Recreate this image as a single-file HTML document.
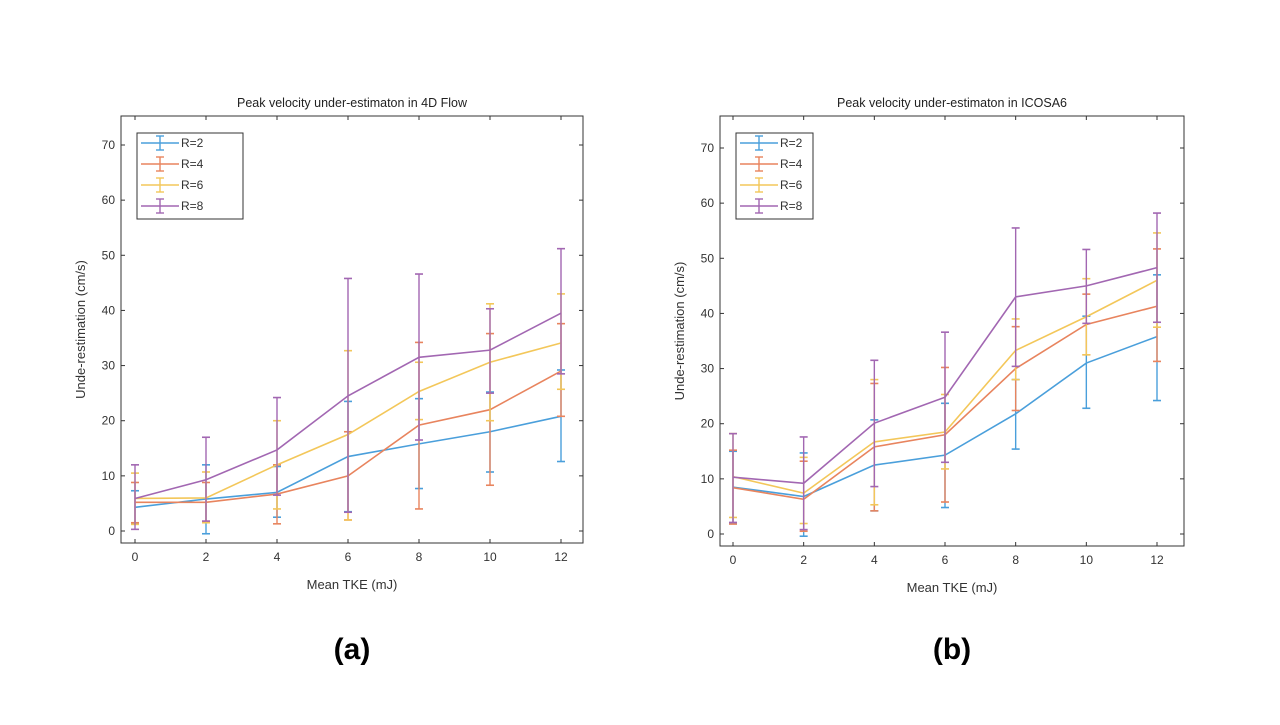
<!DOCTYPE html>
<html><head><meta charset="utf-8"><style>
body{margin:0;background:#fff;}
svg text{font-family:"Liberation Sans",Arial,sans-serif;}
</style></head><body>
<svg id="s" width="1280" height="720"></svg>
<script>
const xCats=[0,2,4,6,8,10,12];
const yTicks=[0,10,20,30,40,50,60,70];
const seriesNames=["R=2","R=4","R=6","R=8"];
const colors=["#4A9FDB","#E8845E","#F3C75A","#A267B2"];
// Panel (a)
const aMean=[[4.3,5.8,7,13.5,15.8,18,20.8],[5.2,5.2,6.7,10,19.2,22,29],[5.9,6,12,17.5,25.3,30.6,34.1],[5.9,9.3,14.7,24.5,31.5,32.8,39.5]];
const aLo=[[1.3,-0.5,2.5,3.5,7.7,10.7,12.6],[1.5,1.6,1.3,2,4,8.3,20.8],[1.2,1.5,4,2,20.2,20,25.7],[0.3,1.8,6.5,3.4,16.5,25,28.5]];
const aHi=[[7.3,12,11.7,23.5,24,25.2,29.2],[8.8,8.8,12,18,34.2,35.8,37.6],[10.5,10.7,20,32.7,30.6,41.2,43],[12,17,24.2,45.8,46.6,40.3,51.2]];
// Panel (b)
const bMean=[[8.5,6.8,12.5,14.3,21.8,31,35.8],[8.4,6.3,15.8,18,30,38,41.3],[10.4,7.4,16.7,18.5,33.3,39.4,46],[10.3,9.2,20.1,24.8,43,45,48.3]];
const bLo=[[2,-0.4,4.2,4.8,15.4,22.8,24.2],[1.8,0.5,4.2,5.8,22.4,32.5,31.3],[3,1.9,5.3,11.8,28,32.5,37.5],[2.1,0.8,8.6,13,30.4,38.2,38.4]];
const bHi=[[15,14.7,20.7,23.7,28,39.5,47],[15.2,13.2,27.3,30.2,37.6,43.5,51.7],[18.2,13.9,28,25.3,39,46.3,54.6],[18.2,17.6,31.5,36.6,55.5,51.6,58.2]];

const NS="http://www.w3.org/2000/svg";
const svg=document.getElementById('s');
function mk(t,a,p){const e=document.createElementNS(NS,t);for(const k in a)e.setAttribute(k,a[k]);(p||svg).appendChild(e);return e;}

function panel(P){
  const g=mk('g',{});
  
  
  const X=v=>P.x0+(v-0)*(P.x12-P.x0)/12;
  const Y=v=>P.y0-v*(P.y0-P.y70)/70;
  const box=mk('rect',{x:P.L,y:P.T,width:P.R-P.L,height:P.B-P.T,fill:'#fff',stroke:'#333','stroke-width':1},g);
  
  
  yTicks.forEach(v=>{
    mk('line',{x1:P.L,x2:P.L+4,y1:Y(v),y2:Y(v),stroke:'#333'},g);
    mk('line',{x1:P.R,x2:P.R-4,y1:Y(v),y2:Y(v),stroke:'#333'},g);
    const t=mk('text',{x:P.L-6,y:Y(v)+4,'text-anchor':'end','font-size':12,fill:'#333'},g);t.textContent=v;
    
    
  });
  xCats.forEach(v=>{
    mk('line',{x1:X(v),x2:X(v),y1:P.B,y2:P.B-4,stroke:'#333'},g);
    mk('line',{x1:X(v),x2:X(v),y1:P.T,y2:P.T+4,stroke:'#333'},g);
    const t=mk('text',{x:X(v),y:P.B+18,'text-anchor':'middle','font-size':12,fill:'#333'},g);t.textContent=v;
    
    
  });
  P.mean.forEach((m,si)=>{
    const c=colors[si];
    const sg=mk('g',{},g);
    
    
    mk('polyline',{points:m.map((v,i)=>X(xCats[i])+','+Y(v)).join(' '),fill:'none',stroke:c,'stroke-width':1.6},sg);
    m.forEach((v,i)=>{
      const x=X(xCats[i]),lo=Y(P.lo[si][i]),hi=Y(P.hi[si][i]);
      mk('line',{x1:x,x2:x,y1:lo,y2:hi,stroke:c,'stroke-width':1.4},sg);
      mk('line',{x1:x-4,x2:x+4,y1:lo,y2:lo,stroke:c,'stroke-width':1.6},sg);
      mk('line',{x1:x-4,x2:x+4,y1:hi,y2:hi,stroke:c,'stroke-width':1.6},sg);
    });
  });
  const tt=mk('text',{x:(P.L+P.R)/2,y:P.T-9,'text-anchor':'middle','font-size':12.5,fill:'#222'},g);tt.textContent=P.title;
  
  
  const xl=mk('text',{x:(P.L+P.R)/2,y:P.B+46,'text-anchor':'middle','font-size':13,fill:'#333'},g);xl.textContent='Mean TKE (mJ)';
  
  
  const yx=P.L-36,yy=(P.T+P.B)/2;
  const yl=mk('text',{x:yx,y:yy,'text-anchor':'middle','font-size':13,fill:'#333',transform:`rotate(-90 ${yx} ${yy})`},g);yl.textContent='Unde-restimation (cm/s)';
  
  
  const lg=mk('g',{},g);
  
  
  mk('rect',{x:P.L+16,y:P.T+17,width:P.lw,height:86,fill:'#fff',stroke:'#333'},lg);
  seriesNames.forEach((n,i)=>{
    const y=P.T+27+i*21,c=colors[i],x1=P.L+20,x2=P.L+58,xm=(x1+x2)/2;
    mk('line',{x1:x1,x2:x2,y1:y,y2:y,stroke:c,'stroke-width':1.6},lg);
    mk('line',{x1:xm,x2:xm,y1:y-7,y2:y+7,stroke:c,'stroke-width':1.4},lg);
    mk('line',{x1:xm-4,x2:xm+4,y1:y-7,y2:y-7,stroke:c,'stroke-width':1.4},lg);
    mk('line',{x1:xm-4,x2:xm+4,y1:y+7,y2:y+7,stroke:c,'stroke-width':1.4},lg);
    const t=mk('text',{x:x2+2,y:y+4,'font-size':12,fill:'#333'},lg);t.textContent=n;
    
    
  });
  const lb=mk('text',{x:(P.L+P.R)/2,y:659,'text-anchor':'middle','font-size':30,'font-weight':'bold',fill:'#000'},g);lb.textContent=P.label;
  
  
}
panel({name:'panel-a',L:121,R:583,T:116,B:543,x0:135,x12:561,y0:531,y70:145,mean:aMean,lo:aLo,hi:aHi,title:'Peak velocity under-estimaton in 4D Flow',label:'(a)',lw:106});
panel({name:'panel-b',L:720,R:1184,T:116,B:546,x0:733,x12:1157,y0:534,y70:148,mean:bMean,lo:bLo,hi:bHi,title:'Peak velocity under-estimaton in ICOSA6',label:'(b)',lw:77});
</script>
</body></html>
